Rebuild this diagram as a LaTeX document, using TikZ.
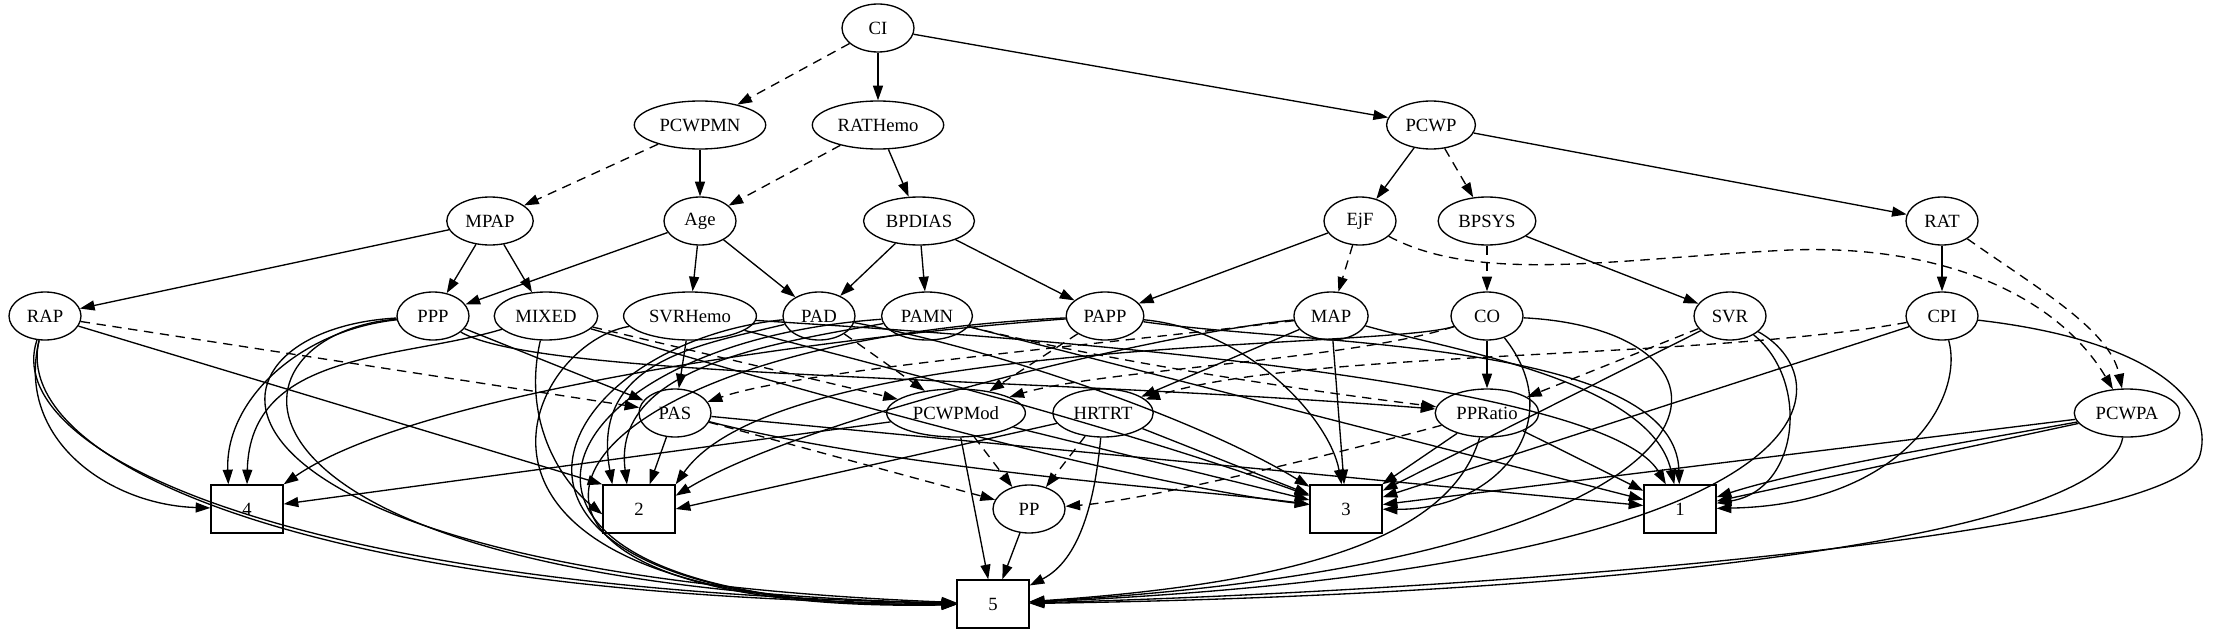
\documentclass[tikz,border=0pt]{standalone}
\usepackage{fontspec}
\setmainfont{Liberation Serif}
\usepackage{tikz}
\usetikzlibrary{arrows.meta,shapes.geometric}

\begin{document}
\begin{tikzpicture}[x=0.75pt,y=-0.75pt,>={Triangle[length=11pt,width=7.5pt]},
  var/.style={draw,ellipse,line width=1pt,minimum width=54pt,minimum height=36pt,
    inner xsep=4.5pt,inner ysep=2pt,font=\fontsize{14}{16}\selectfont},
  cls/.style={draw,rectangle,line width=1pt,minimum width=54pt,minimum height=36pt,
    font=\fontsize{14}{16}\selectfont},
  lnk/.style={->,line width=1pt},
  dlnk/.style={lnk,dash pattern=on 7pt off 5pt}]
  \useasboundingbox (0,0) rectangle (2215,635);
  % variables
  \node[var] (CI) at (878,28) {CI};
  \node[var] (PCWPMN) at (700,125) {PCWPMN};
  \node[var] (RATHemo) at (878,125) {RATHemo};
  \node[var] (PCWP) at (1431,125) {PCWP};
  \node[var] (MPAP) at (490,221) {MPAP};
  \node[var] (Age) at (700,221) {Age};
  \node[var] (BPDIAS) at (919,221) {BPDIAS};
  \node[var] (EjF) at (1360,221) {EjF};
  \node[var] (BPSYS) at (1487,221) {BPSYS};
  \node[var] (RAT) at (1942,221) {RAT};
  \node[var] (RAP) at (45,316) {RAP};
  \node[var] (PPP) at (433,316) {PPP};
  \node[var] (MIXED) at (546,316) {MIXED};
  \node[var] (SVRHemo) at (690,316) {SVRHemo};
  \node[var] (PAD) at (819,316) {PAD};
  \node[var] (PAMN) at (927,316) {PAMN};
  \node[var] (PAPP) at (1105,316) {PAPP};
  \node[var] (MAP) at (1331,316) {MAP};
  \node[var] (CO) at (1487,316) {CO};
  \node[var] (SVR) at (1730,316) {SVR};
  \node[var] (CPI) at (1942,316) {CPI};
  \node[var] (PAS) at (675,413) {PAS};
  \node[var] (PCWPMod) at (956,413) {PCWPMod};
  \node[var] (HRTRT) at (1103,413) {HRTRT};
  \node[var] (PPRatio) at (1487,413) {PPRatio};
  \node[var] (PCWPA) at (2127,413) {PCWPA};
  \node[var] (PP) at (1029,509) {PP};
  % classes
  \node[cls] (c4) at (247,509) {4};
  \node[cls] (c2) at (639,509) {2};
  \node[cls] (c3) at (1346,509) {3};
  \node[cls] (c1) at (1680,509) {1};
  \node[cls] (c5) at (993,604) {5};

  % upper part
  \draw[dlnk] (CI) -- (PCWPMN);
  \draw[lnk] (CI) -- (RATHemo);
  \draw[lnk] (CI) -- (PCWP);
  \draw[dlnk] (PCWPMN) -- (MPAP);
  \draw[lnk] (PCWPMN) -- (Age);
  \draw[dlnk] (RATHemo) -- (Age);
  \draw[lnk] (RATHemo) -- (BPDIAS);
  \draw[lnk] (PCWP) -- (EjF);
  \draw[dlnk] (PCWP) -- (BPSYS);
  \draw[lnk] (PCWP) -- (RAT);
  \draw[lnk] (MPAP) -- (RAP);
  \draw[lnk] (MPAP) -- (PPP);
  \draw[lnk] (MPAP) -- (MIXED);
  \draw[lnk] (Age) -- (PPP);
  \draw[lnk] (Age) -- (SVRHemo);
  \draw[lnk] (Age) -- (PAD);
  \draw[lnk] (BPDIAS) -- (PAD);
  \draw[lnk] (BPDIAS) -- (PAMN);
  \draw[lnk] (BPDIAS) -- (PAPP);
  \draw[lnk] (EjF) -- (PAPP);
  \draw[dlnk] (EjF) -- (MAP);
  \draw[dlnk] (EjF) .. controls (1480,285) and (1620,258) .. (1790,250)
    .. controls (1950,244) and (2060,300) .. (PCWPA);
  \draw[dlnk] (BPSYS) -- (CO);
  \draw[lnk] (BPSYS) -- (SVR);
  \draw[lnk] (RAT) -- (CPI);
  \draw[dlnk] (RAT) .. controls (2040,290) and (2110,330) .. (PCWPA);

  % left side
  \draw[dlnk] (RAP) -- (PAS);
  \draw[lnk] (RAP) -- (c2.north west);
  \draw[lnk] (RAP) .. controls (15,440) and (110,505) .. (c4);
  \draw[lnk] (RAP) .. controls (0,450) and (280,590) .. (c5);
  \draw[lnk] (RAP) .. controls (10,460) and (300,598) .. (c5);
  \draw[lnk] (PPP) .. controls (300,330) and (225,400) .. ([xshift=-14pt]c4.north);
  \draw[lnk] (PPP) .. controls (180,330) and (150,570) .. (c5);
  \draw[lnk] (PPP) .. controls (210,335) and (185,585) .. (c5);
  \draw[lnk] (PPP) -- (PAS);
  \draw[lnk] (PPP) .. controls (540,378) and (1000,375) .. (PPRatio);
  \draw[lnk] (MIXED) .. controls (400,360) and (250,350) .. (c4.north);
  \draw[lnk] (MIXED) .. controls (522,420) and (560,480) .. ([yshift=-4pt]c2.west);
  \draw[dlnk] (MIXED) -- (PCWPMod);
  \draw[lnk] (MIXED) .. controls (700,360) and (1100,480) .. (c3);

  % middle part
  \draw[lnk] (SVRHemo) -- (PAS);
  \draw[lnk] (SVRHemo) .. controls (520,345) and (400,610) .. (c5);
  \draw[lnk] (SVRHemo) .. controls (800,345) and (1100,420) .. (c3);
  \draw[lnk] (SVRHemo) .. controls (900,330) and (1600,370) .. (c1);
  \draw[lnk] (PAD) .. controls (700,345) and (590,360) .. ([xshift=-20pt]c2.north);
  \draw[lnk] (PAD) .. controls (540,345) and (410,610) .. (c5);
  \draw[dlnk] (PAD) -- (PCWPMod);
  \draw[lnk] (PAD) .. controls (1000,350) and (1200,420) .. (c3);
  \draw[lnk] (PAMN) .. controls (760,345) and (612,370) .. ([xshift=-9pt]c2.north);
  \draw[lnk] (PAMN) .. controls (520,345) and (420,610) .. (c5);
  \draw[dlnk] (PAMN) .. controls (1100,360) and (1300,390) .. (PPRatio);
  \draw[lnk] (PAMN) -- (c1);
  \draw[lnk] (PAPP) .. controls (850,335) and (420,390) .. (c4.north east);
  \draw[lnk] (PAPP) .. controls (500,345) and (410,615) .. (c5);
  \draw[dlnk] (PAPP) -- (PCWPMod);
  \draw[lnk] (PAPP) .. controls (1250,330) and (1330,420) .. (c3);
  \draw[lnk] (PAPP) .. controls (1300,345) and (1675,340) .. (c1);
  \draw[lnk] (MAP) -- (HRTRT);
  \draw[lnk] (MAP) -- (c3);
  \draw[lnk] (MAP) .. controls (1450,350) and (1650,380) .. (c1);
  \draw[lnk] (MAP) .. controls (1150,335) and (800,420) .. ([yshift=10pt]c2.east);
  \draw[dlnk] (MAP) .. controls (1100,345) and (800,370) .. (PAS);

  % right side
  \draw[lnk] (CO) -- (PPRatio);
  \draw[lnk] (CO) .. controls (1570,420) and (1500,510) .. (c3);
  \draw[lnk] (CO) .. controls (1770,330) and (1770,560) .. (c5);
  \draw[lnk] (CO) .. controls (1380,350) and (780,335) .. (c2.north east);
  \draw[dlnk] (CO) .. controls (1350,360) and (1100,370) .. (PCWPMod);
  \draw[dlnk] (SVR) -- (PPRatio);
  \draw[lnk] (SVR) -- (c3);
  \draw[lnk] (SVR) .. controls (1810,380) and (1800,490) .. (c1);
  \draw[lnk] (SVR) .. controls (1845,380) and (1850,565) .. (c5);
  \draw[dlnk] (CPI) .. controls (1700,360) and (1300,350) .. (HRTRT);
  \draw[lnk] (CPI) -- (c3);
  \draw[lnk] (CPI) .. controls (1965,400) and (1900,505) .. (c1);
  \draw[lnk] (CPI) .. controls (2150,340) and (2215,400) .. (2200,455)
    .. controls (2180,535) and (1500,590) .. (c5);

  % lower part
  \draw[lnk] (PAS) -- ([xshift=8pt]c2.north);
  \draw[lnk] (PAS) .. controls (900,470) and (1200,490) .. (c3);
  \draw[lnk] (PAS) -- (c1);
  \draw[dlnk] (PAS) -- (PP);
  \draw[lnk] (PCWPMod) -- (c4);
  \draw[lnk] (PCWPMod) -- (c5);
  \draw[dlnk] (PCWPMod) -- (PP);
  \draw[lnk] (PCWPMod) -- (c3);
  \draw[lnk] (HRTRT) -- (c2.east);
  \draw[dlnk] (HRTRT) -- (PP);
  \draw[lnk] (HRTRT) .. controls (1095,500) and (1080,560) .. (c5);
  \draw[lnk] (HRTRT) -- (c3);
  \draw[lnk] (PPRatio) -- (c3);
  \draw[lnk] (PPRatio) -- (c1);
  \draw[lnk] (PPRatio) .. controls (1455,520) and (1350,580) .. (c5);
  \draw[dlnk] (PPRatio) .. controls (1350,450) and (1150,500) .. (PP);
  \draw[lnk] (PCWPA) -- (c3);
  \draw[lnk] (PCWPA) -- (c1);
  \draw[lnk] (PCWPA) .. controls (1950,445) and (1800,470) .. (c1);
  \draw[lnk] (PCWPA) .. controls (2105,540) and (1600,595) .. (c5);
  \draw[lnk] (PP) -- (c5);
\end{tikzpicture}
\end{document}
